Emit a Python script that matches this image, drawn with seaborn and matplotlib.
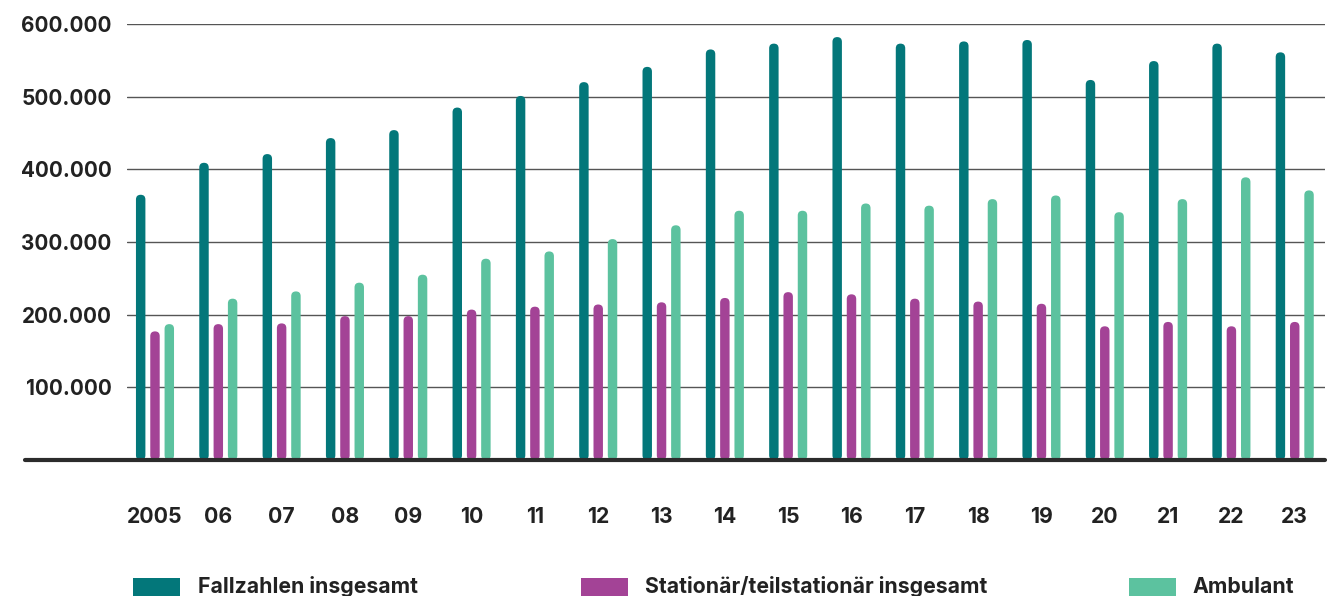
import numpy as np
import pandas as pd
import seaborn as sns
import matplotlib.pyplot as plt
from matplotlib.patches import FancyBboxPatch, Rectangle
from matplotlib.lines import Line2D
from matplotlib.ticker import FixedLocator, FuncFormatter

# ---- data ---------------------------------------------------------------
years = ["2005", "06", "07", "08", "09", "10", "11", "12", "13", "14",
         "15", "16", "17", "18", "19", "20", "21", "22", "23"]
fallzahlen = [365000, 409000, 421000, 443000, 454000, 485000, 501000, 520000,
              541000, 565000, 573000, 582000, 573000, 576000, 578000, 523000,
              549000, 573000, 561000]
stationaer = [177000, 187000, 188000, 198000, 198000, 207000, 211000, 214000,
              217000, 223000, 231000, 228000, 222000, 218000, 215000, 184000,
              190000, 184000, 190000]
ambulant = [187000, 222000, 232000, 244000, 255000, 277000, 287000, 304000,
            323000, 343000, 343000, 353000, 350000, 359000, 364000, 341000,
            359000, 389000, 371000]
series_names = ["Fallzahlen insgesamt", "Stationär/teilstationär insgesamt", "Ambulant"]
series_colors = ["#03777A", "#A34396", "#5CC29F"]
y_ticks = [100000, 200000, 300000, 400000, 500000, 600000]

df = pd.DataFrame({
    "Jahr": years * 3,
    "Reihe": sum([[n] * len(years) for n in series_names], []),
    "Fälle": fallzahlen + stationaer + ambulant,
})

# ---- figure ---------------------------------------------------------------
sns.set_style("white")
plt.rcParams["font.family"] = ["Inter", "DejaVu Sans"]
plt.rcParams["font.weight"] = "bold"

W, H = 1338, 596
fig = plt.figure(figsize=(W / 100, H / 100), dpi=100)
ax = fig.add_axes([127 / W, 136 / H, 1198 / W, 436 / H])

sns.barplot(data=df, x="Jahr", y="Fälle", hue="Reihe", order=years,
            hue_order=series_names, palette=series_colors, width=0.678,
            gap=0.34, errorbar=None, legend=False, saturation=1, ax=ax)

ax.set_xlim(-0.442, len(years) - 1 + 0.478)
ax.set_ylim(0, 600000)

# round the top of each bar
fig.canvas.draw()
p0 = ax.transData.transform((0, 0))
p1 = ax.transData.transform((1, 1))
px_per_x = p1[0] - p0[0]
px_per_y = p1[1] - p0[1]
aspect = (1 / px_per_y) / (1 / px_per_x)
bars = [p for p in ax.patches if isinstance(p, Rectangle)]
for b in bars:
    x, y = b.get_x(), b.get_y()
    w, h = b.get_width(), b.get_height()
    if h <= 0:
        continue
    rounded = FancyBboxPatch((x, y), w, h,
                             boxstyle=f"round,pad=0,rounding_size={w / 2}",
                             mutation_aspect=aspect, facecolor=b.get_facecolor(),
                             edgecolor="none", zorder=2)
    b.remove()
    ax.add_patch(rounded)

# axes styling
for s in ax.spines.values():
    s.set_visible(False)
ax.set_xlabel("")
ax.set_ylabel("")
ax.yaxis.set_major_locator(FixedLocator(y_ticks))
ax.yaxis.set_major_formatter(FuncFormatter(lambda v, _: f"{int(v):,}".replace(",", ".")))
ax.yaxis.grid(True, color="#555555", linewidth=1.0)
ax.set_axisbelow(True)
ax.tick_params(axis="y", length=0, pad=11, labelsize=14.9, labelcolor="#222222")
ax.tick_params(axis="x", length=0, pad=34, labelsize=15.3, labelcolor="#222222")
for lab in ax.get_xticklabels() + ax.get_yticklabels():
    lab.set_fontweight("bold")

# baseline
fig.add_artist(Line2D([25 / W, 1325 / W], [(H - 460) / H] * 2, transform=fig.transFigure,
                      color="#2b2b2b", linewidth=3.0, solid_capstyle="round", zorder=5))

# legend row
legend_x = [(133, 198), (581, 645), (1129, 1192)]
for (px, tx), name, col in zip(legend_x, series_names, series_colors):
    fig.add_artist(Rectangle((px / W, -2 / H), 47 / W, 20 / H, transform=fig.transFigure,
                             facecolor=col, edgecolor="none"))
    fig.text(tx / W, 3 / H, name, fontsize=15.3, fontweight="bold", color="#222222",
             ha="left", va="baseline")

fig.savefig("out.png", dpi=100)
